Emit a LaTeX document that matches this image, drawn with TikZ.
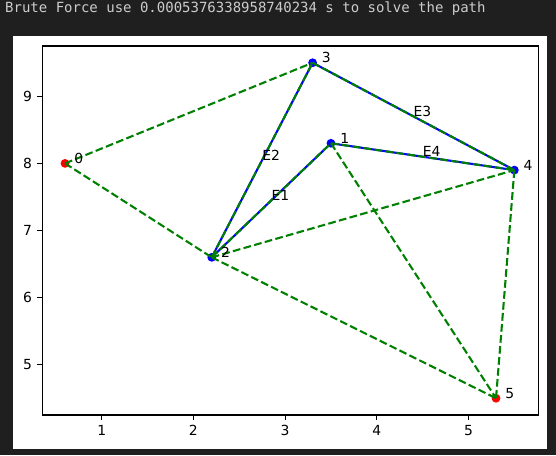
\documentclass[tikz,border=0pt]{standalone}
\usepackage{fontspec}
\setmainfont{DejaVu Sans}
\newfontfamily\termfont{DejaVu Sans Mono}
\usetikzlibrary{calc}
\definecolor{bgdark}{HTML}{1F1F1F}
\definecolor{titlegray}{HTML}{CCCCCC}
\definecolor{mplgreen}{HTML}{008000}
\definecolor{mplblue}{HTML}{0000FF}
\definecolor{mplred}{HTML}{FF0000}
\tikzset{
  vtx/.style={circle, inner sep=0pt, minimum size=8.8pt, draw=none},
  redvtx/.style={vtx, fill=mplred},
  bluevtx/.style={vtx, fill=mplblue},
  routeline/.style={draw=mplblue, line width=2.08pt},
  gedge/.style={draw=mplgreen, line width=2.08pt, dash pattern=on 7.7pt off 3.33pt},
  lbl/.style={anchor=base west, inner sep=0pt, font=\fontsize{13.9}{16}\selectfont},
  tick/.style={black, line width=1.1pt},
  ticklbl/.style={inner sep=0pt, font=\fontsize{13.9}{16}\selectfont},
}
\begin{document}
\begin{tikzpicture}[x=1pt,y=1pt]
\useasboundingbox (0,0) rectangle (556,455);
\fill[bgdark] (0,0) rectangle (556,455);
\node[anchor=base west, inner sep=0pt, text=titlegray, font=\termfont\fontsize{14.0}{16}\selectfont] (title) at (5,442.3) {Brute Force use 0.0005376338958740234 s to solve the path};
\fill[white] (13,6) rectangle (547,419.3);
\begin{scope}[shift={(10.0pt,-245.2pt)}, x=91.7pt, y=67.1pt]
  % axes frame
  \draw[tick] (0.352,4.25) rectangle (5.766,9.75);
  \foreach \t in {1,2,3,4,5} {
    \draw[tick] (\t,4.25) -- ++(0,-4.9pt) node[ticklbl, anchor=north, yshift=-4.9pt] (xt\t) {\t};
  }
  \foreach \t in {5,6,7,8,9} {
    \draw[tick] (0.352,\t) -- ++(-4.9pt,0) node[ticklbl, anchor=east, xshift=-4.9pt] (yt\t) {\t};
  }
  % vertices
  \node[redvtx]  (p0) at (0.6,8.0) {};
  \node[bluevtx] (p1) at (3.5,8.3) {};
  \node[bluevtx] (p2) at (2.2,6.6) {};
  \node[bluevtx] (p3) at (3.3,9.5) {};
  \node[bluevtx] (p4) at (5.5,7.9) {};
  \node[redvtx]  (p5) at (5.3,4.5) {};
  % route (blue solid)
  \draw[routeline] (p2.center) -- (p1.center);
  \draw[routeline] (p2.center) -- (p3.center);
  \draw[routeline] (p3.center) -- (p4.center);
  \draw[routeline] (p1.center) -- (p4.center);
  % all edges (green dashed)
  \draw[gedge] (p0.center) -- (p3.center);
  \draw[gedge] (p0.center) -- (p2.center);
  \draw[gedge] (p2.center) -- (p3.center);
  \draw[gedge] (p2.center) -- (p1.center);
  \draw[gedge] (p3.center) -- (p4.center);
  \draw[gedge] (p1.center) -- (p4.center);
  \draw[gedge] (p2.center) -- (p4.center);
  \draw[gedge] (p2.center) -- (p5.center);
  \draw[gedge] (p1.center) -- (p5.center);
  \draw[gedge] (p4.center) -- (p5.center);
  % vertex labels
  \node[lbl] (l0) at (0.7,8.0) {0};
  \node[lbl] (l1) at (3.6,8.3) {1};
  \node[lbl] (l2) at (2.3,6.6) {2};
  \node[lbl] (l3) at (3.4,9.5) {3};
  \node[lbl] (l4) at (5.6,7.9) {4};
  \node[lbl] (l5) at (5.4,4.5) {5};
  % edge labels
  \node[lbl] (e1) at ($(p2.center)!0.5!(p1.center)$) {E1};
  \node[lbl] (e2) at ($(p2.center)!0.5!(p3.center)$) {E2};
  \node[lbl] (e3) at ($(p3.center)!0.5!(p4.center)$) {E3};
  \node[lbl] (e4) at ($(p1.center)!0.5!(p4.center)$) {E4};
\end{scope}
\end{tikzpicture}
\end{document}
